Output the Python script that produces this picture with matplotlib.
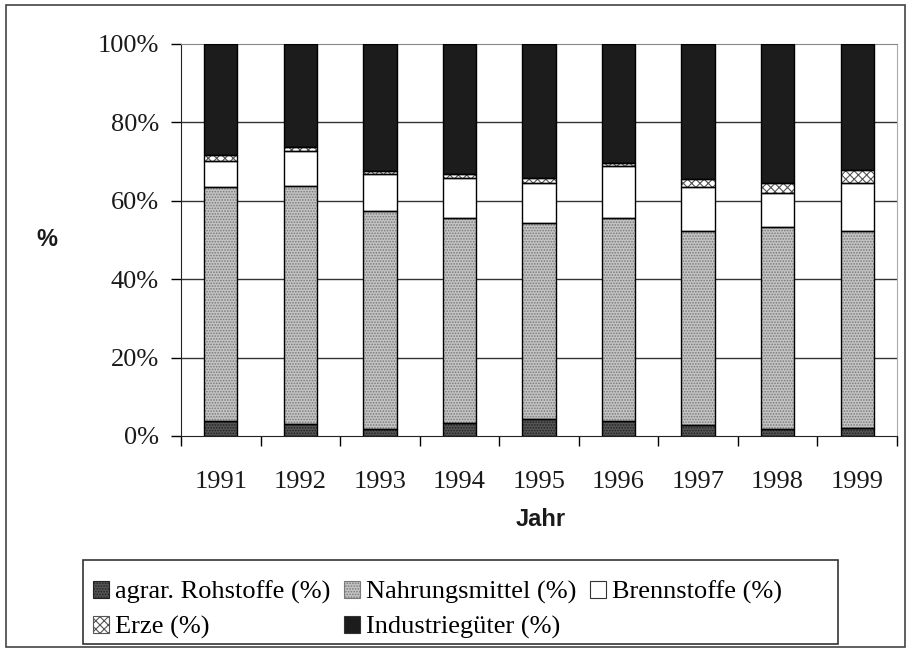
import matplotlib
matplotlib.use("Agg")
import matplotlib.pyplot as plt
import matplotlib.patches as mpatches
import numpy as np

plt.rcParams['hatch.linewidth'] = 0.8

jahre = ["1991", "1992", "1993", "1994", "1995", "1996", "1997", "1998", "1999"]

# Anteile in %
agrar = [3.9, 3.0, 1.9, 3.4, 4.4, 3.9, 2.9, 1.9, 2.1]
nahrung = [59.7, 60.8, 55.6, 52.1, 49.9, 51.6, 49.5, 51.3, 50.3]
brenn = [6.6, 8.9, 9.4, 10.4, 10.3, 13.4, 11.2, 8.9, 12.2]
erze = [1.5, 0.9, 0.8, 0.9, 1.3, 0.8, 1.9, 2.5, 3.3]
industrie = [28.3, 26.4, 32.3, 33.2, 34.1, 30.3, 34.5, 35.4, 32.1]

serien = [
    ("agrar. Rohstoffe (%)", agrar, "#555555", "#222222", "......"),
    ("Nahrungsmittel (%)", nahrung, "#c4c4c4", "#7a7a7a", "......"),
    ("Brennstoffe (%)", brenn, "white", None, None),
    ("Erze (%)", erze, "white", "#555555", "xxxx"),
    ("Industriegüter (%)", industrie, "#1c1c1c", None, None),
]

fig = plt.figure(figsize=(9.1, 6.5), dpi=100)
ax = fig.add_axes([181 / 910, 1 - 436 / 650, (897 - 181) / 910, (436 - 44) / 650])

x = np.arange(len(jahre))
breite = 0.42
unten = np.zeros(len(jahre))
handles = {}
for name, werte, farbe, hfarbe, hatch in serien:
    werte = np.array(werte)
    if hatch:
        ax.bar(x, werte, breite, bottom=unten, color=farbe, edgecolor=hfarbe,
               hatch=hatch, linewidth=0, zorder=3)
    else:
        ax.bar(x, werte, breite, bottom=unten, color=farbe, linewidth=0, zorder=3)
    ax.bar(x, werte, breite, bottom=unten, fill=False, edgecolor="black",
           linewidth=1.0, zorder=4)
    handles[name] = mpatches.Patch(facecolor=farbe, edgecolor="#333333" if hfarbe is None else hfarbe,
                                   hatch=hatch, linewidth=0.8)
    unten += werte

ax.set_xlim(-0.5, 8.5)
ax.set_ylim(0, 100)
ax.set_yticks([0, 20, 40, 60, 80, 100])
ax.set_yticklabels(["0%", "20%", "40%", "60%", "80%", "100%"])
ax.set_xticks(x)
ax.set_xticklabels(jahre)
ax.set_xticks(np.arange(-0.5, 9.0, 1.0), minor=True)
ax.tick_params(axis="x", which="major", length=0, pad=25)
ax.tick_params(axis="x", which="minor", length=7, width=1, direction="out")
ax.tick_params(axis="y", length=7, width=1, pad=9)
for lab in ax.get_xticklabels() + ax.get_yticklabels():
    lab.set_fontfamily("Liberation Serif")
    lab.set_fontsize(19)
    lab.set_color("#1a1a1a")

for y in [20, 40, 60, 80]:
    ax.axhline(y, color="#333333", linewidth=1.0, zorder=1)

ax.spines["left"].set_color("#222222")
ax.spines["bottom"].set_color("#222222")
ax.spines["top"].set_color("#888888")
ax.spines["right"].set_color("#aaaaaa")

fig.text(47 / 910, 1 - 240 / 650, "%", fontfamily="Liberation Sans", fontweight="bold",
         fontsize=17, ha="center", va="center", color="#1a1a1a")
fig.text(541 / 910, 1 - 520 / 650, "Jahr", fontfamily="Liberation Sans", fontweight="bold",
         fontsize=17, ha="center", va="center", color="#1a1a1a")

reihenfolge = ["agrar. Rohstoffe (%)", "Erze (%)", "Nahrungsmittel (%)",
               "Industriegüter (%)", "Brennstoffe (%)"]
leg = fig.legend([handles[n] for n in reihenfolge], reihenfolge, ncol=3,
                 loc="lower left", bbox_to_anchor=(85 / 910, 1 - 647 / 650),
                 prop={"family": "Liberation Serif", "size": 19},
                 frameon=False,
                 handlelength=0.6, handleheight=0.6, handletextpad=0.25,
                 columnspacing=0.5, labelspacing=0.45, borderpad=0.3,
                 borderaxespad=0)

# Legendenrahmen (breiter als der Inhalt, wie im Original)
legrahmen = mpatches.Rectangle((83 / 910, 1 - 644 / 650), 755 / 910, 84 / 650,
                               transform=fig.transFigure, fill=False,
                               edgecolor="#333333", linewidth=1.2)
fig.patches.append(legrahmen)

rahmen = mpatches.Rectangle((6 / 910, 3 / 650), 899 / 910, 642 / 650, transform=fig.transFigure,
                            fill=False, edgecolor="#444444", linewidth=1.2)
fig.patches.append(rahmen)

fig.savefig("out.png", dpi=100)
